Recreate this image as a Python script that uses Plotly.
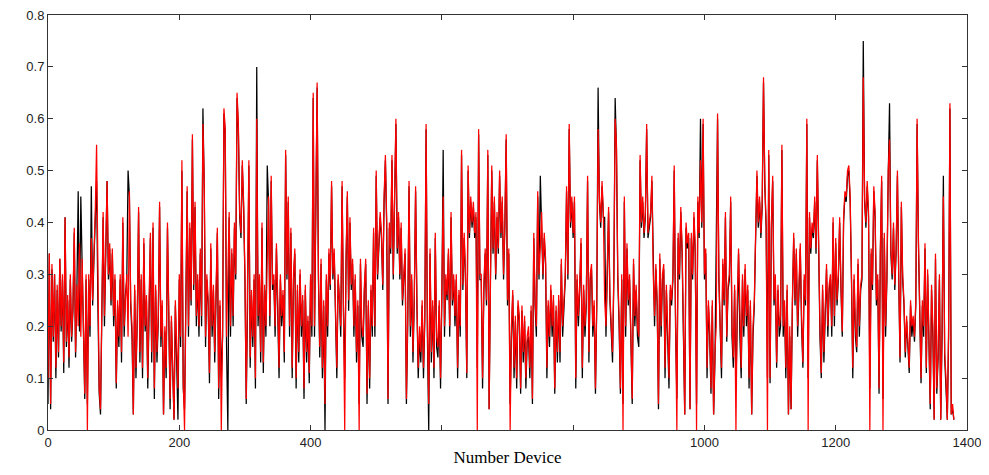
import plotly.graph_objects as go

# device index (sampled every 2 devices)
device_index = list(range(0, 1381, 2))

red_values = [
    .1,.34,.05,.32,.18,.3,.12,.28,.15,.33,
    .2,.3,.13,.41,.17,.26,.14,.3,.18,.24,
    .39,.15,.28,.2,.36,.18,.33,.2,.07,.3,
    0,.3,.2,.37,.25,.34,.42,.55,.25,.08,
    .04,.3,.42,.22,.37,.48,.3,.36,.25,.35,
    .22,.3,.09,.25,.18,.3,.15,.41,.2,.27,
    .3,.18,.46,.25,.2,.03,.28,.12,.22,.43,
    .15,.3,.12,.37,.2,.26,.1,.25,.38,.15,
    .4,.08,.28,.15,.22,.44,.18,.25,.03,.2,
    .12,.4,.2,.06,.22,.1,.02,.25,.15,.08,
    .3,.18,.52,.1,0,.28,.47,.2,.4,.25,
    .57,.28,.44,.22,.3,.2,.35,.22,.59,.48,
    .18,.3,.25,.11,.36,.2,.28,.15,.3,.39,
    .08,.25,0,.2,.62,.58,.18,.3,.42,.2,
    .35,.22,.4,.3,.65,.59,.42,.38,.52,.44,
    .3,.06,.25,.52,.14,.27,.18,.3,.1,.6,
    .22,.3,.15,.4,.13,.28,.2,.33,.45,.22,
    .49,.28,.3,.2,.36,.25,.12,.3,.22,.27,
    .15,.54,.3,.45,.2,.39,.12,.3,.35,.1,
    .28,.15,.31,.2,.26,.08,.28,.15,.22,.11,
    .3,.2,.65,.2,.4,.67,.3,.16,.33,.12,
    .25,.05,.3,.2,.35,.28,.48,.3,.35,.22,
    .12,.3,.26,.2,.48,.25,0,.33,.46,.25,
    .41,.28,.33,.2,.3,.15,.25,0,.33,.2,
    .18,.28,.33,.07,.25,.1,.28,.2,.39,.2,
    .5,.3,.35,.42,.38,.28,.45,.53,.4,.06,
    .4,.35,.53,.3,.45,.6,.35,.42,.3,.4,
    .25,.3,.35,.06,.22,.48,.2,.3,.15,.26,
    .47,.25,.12,.2,.15,.25,.12,.22,.59,.2,
    .05,.35,.15,.25,.12,.38,.18,.16,.25,.1,
    .26,.45,.2,.3,.26,.35,.2,.42,.25,.3,
    .22,.3,.12,.27,.2,.54,.28,.38,.3,.11,
    .51,.38,.45,.4,.44,.38,.42,0,.58,.3,
    .3,.1,.28,.35,.25,.54,.04,.3,.51,.35,
    .45,.3,.42,.35,.5,.38,.45,.3,.4,.57,
    .25,.35,0,.2,.27,.12,.22,.1,.25,.22,
    .08,.24,.15,.22,.1,.18,.2,.12,.24,.06,
    .38,.25,.2,.46,.3,.35,.42,.3,.38,.33,
    .12,.25,.18,.28,.2,.26,.08,.24,.15,.26,
    .15,.33,.2,.25,.3,.47,.3,.59,.4,.45,
    .38,.45,.1,.3,.22,.28,.37,.12,.28,.2,
    .25,.49,.15,.3,.32,.2,.25,.08,.25,.58,
    .45,.4,.48,.42,.25,.2,.3,.43,.26,.2,
    .15,.3,.6,.55,.3,.22,.08,.3,0,.45,
    .2,.36,.25,.3,.2,.06,.33,.22,.28,.2,
    .18,.53,.4,.45,.38,.42,.59,.38,.4,.42,
    .49,.3,.22,.32,.25,.05,.34,.2,.3,.32,
    .12,.28,.2,.1,.28,.25,.3,.51,.22,0,
    .38,.3,.43,.35,.2,.03,.4,.36,.38,.04,
    .38,.3,.42,.35,0,.45,.38,.52,.4,.6,
    .3,.35,.12,.25,.2,.08,.25,.03,.15,.2,
    .61,.3,.2,.12,.33,.25,.42,.18,.28,.3,
    .45,.2,.14,.28,0,.25,.35,.2,.12,.3,
    .2,.32,.22,.28,.1,.25,.03,.2,.25,.38,
    .5,.4,.45,.38,.44,.68,.48,.4,0,.54,
    .1,.4,.49,.25,.3,.13,.28,.2,.22,.55,
    .2,.25,.12,.28,.03,.2,.04,.25,.38,.25,
    .35,.2,.3,.36,.22,.13,.3,.25,.6,0,
    .42,.35,.4,.38,.45,.35,.53,.3,.2,.11,
    .28,.15,.25,.32,.2,.28,.3,.2,.41,.22,
    .37,.25,.3,.41,.28,.19,.41,.46,.45,.5,
    .51,.45,.3,.12,.3,.2,.16,.33,.2,.28,
    .3,.68,.45,.4,.48,.42,0,.35,.28,.47,
    .42,.25,.3,.08,.35,.49,0,.38,.2,.3,
    .5,.56,.35,.3,.4,.28,.35,.5,.3,.14,
    .44,.3,.25,.15,.22,.18,.12,.25,.2,.22,
    .18,.25,.6,.37,.2,.1,.25,.2,.36,.12,
    .31,.15,.05,.28,.2,.02,.34,.08,.15,.3,
    .02,.2,.45,.15,.1,.02,.2,.63,.03,.05,
    .02,
]

black_values = [
    .05,.34,.04,.31,.17,.3,.1,.27,.14,.33,
    .19,.29,.11,.41,.16,.25,.12,.29,.17,.23,
    .38,.14,.27,.46,.19,.45,.32,.19,.06,.29,
    .05,.29,.18,.47,.24,.33,.41,.48,.24,.07,
    .03,.29,.41,.2,.36,.48,.29,.35,.24,.34,
    .2,.29,.08,.24,.16,.29,.13,.4,.18,.26,
    .29,.5,.45,.24,.18,.03,.27,.1,.21,.42,
    .13,.29,.1,.36,.19,.25,.08,.24,.37,.13,
    .39,.06,.27,.13,.21,.43,.16,.24,.03,.19,
    .1,.39,.19,.04,.21,.08,.02,.24,.13,.02,
    .29,.16,.5,.08,.04,.27,.46,.18,.39,.24,
    .56,.27,.43,.2,.29,.18,.34,.2,.62,.47,
    .16,.29,.24,.09,.35,.18,.27,.13,.29,.38,
    .06,.24,.1,.18,.61,.57,.16,0,.41,.18,
    .34,.2,.39,.29,.64,.58,.41,.37,.51,.43,
    .29,.05,.24,.51,.12,.26,.16,.29,.08,.7,
    .2,.29,.13,.39,.11,.27,.18,.51,.44,.2,
    .48,.27,.29,.18,.35,.24,.1,.29,.2,.26,
    .13,.53,.29,.44,.18,.38,.1,.29,.34,.08,
    .27,.13,.3,.18,.25,.06,.27,.13,.21,.09,
    .29,.18,.64,.18,.39,.66,.29,.14,.32,.1,
    .24,0,.29,.18,.34,.27,.47,.29,.34,.2,
    .1,.29,.25,.18,.47,.24,.1,.32,.45,.23,
    .4,.27,.32,.18,.29,.13,.24,.05,.32,.18,
    .16,.27,.32,.05,.24,.08,.27,.18,.38,.18,
    .49,.29,.34,.41,.37,.27,.44,.52,.39,.05,
    .39,.34,.52,.29,.44,.59,.34,.41,.29,.39,
    .24,.29,.34,.05,.2,.47,.18,.29,.13,.25,
    .46,.24,.1,.18,.13,.24,.1,.21,.58,.18,
    0,.34,.13,.24,.1,.37,.16,.14,.24,.08,
    .25,.54,.18,.29,.25,.34,.18,.41,.24,.29,
    .2,.29,.1,.26,.18,.53,.27,.37,.29,.1,
    .5,.37,.44,.39,.43,.37,.41,.12,.57,.29,
    .29,.08,.27,.34,.24,.53,.04,.29,.5,.34,
    .44,.29,.41,.34,.49,.37,.44,.29,.39,.56,
    .24,.34,.05,.18,.26,.1,.21,.08,.24,.21,
    .07,.23,.13,.21,.08,.17,.18,.1,.23,.05,
    .37,.24,.18,.45,.29,.49,.41,.29,.37,.32,
    .1,.24,.16,.27,.18,.25,.07,.23,.13,.25,
    .13,.32,.18,.24,.29,.46,.29,.58,.39,.44,
    .37,.44,.08,.29,.2,.27,.36,.1,.27,.18,
    .24,.48,.13,.29,.31,.18,.24,.07,.24,.66,
    .44,.39,.47,.41,.41,.18,.29,.42,.25,.18,
    .13,.29,.64,.54,.29,.2,.07,.29,.05,.44,
    .18,.35,.24,.29,.18,.05,.32,.2,.27,.18,
    .16,.52,.39,.44,.37,.41,.58,.37,.39,.41,
    .48,.29,.2,.31,.24,.04,.33,.18,.29,.31,
    .1,.27,.18,.08,.27,.24,.29,.5,.2,.06,
    .37,.29,.42,.34,.18,.03,.39,.35,.37,.04,
    .37,.29,.41,.34,.05,.44,.37,.6,.39,.59,
    .29,.34,.1,.24,.18,.07,.24,.03,.13,.39,
    .6,.29,.18,.1,.32,.24,.41,.17,.27,.29,
    .44,.18,.12,.27,.08,.24,.34,.18,.1,.29,
    .18,.31,.2,.27,.08,.24,.03,.18,.24,.37,
    .49,.39,.44,.37,.43,.67,.47,.39,.1,.53,
    .09,.39,.48,.24,.29,.12,.27,.18,.2,.54,
    .18,.24,.1,.27,.03,.18,.04,.24,.37,.24,
    .34,.18,.29,.35,.2,.12,.29,.24,.59,.1,
    .41,.34,.39,.37,.44,.34,.52,.29,.18,.1,
    .27,.13,.24,.31,.18,.27,.29,.18,.4,.2,
    .36,.24,.29,.4,.27,.18,.4,.45,.44,.49,
    .5,.44,.29,.1,.29,.18,.15,.32,.18,.27,
    .29,.75,.44,.39,.47,.41,.08,.34,.27,.46,
    .41,.24,.29,.07,.34,.48,.06,.37,.18,.29,
    .49,.63,.34,.29,.39,.27,.34,.49,.29,.13,
    .43,.29,.24,.14,.21,.17,.11,.24,.18,.21,
    .17,.24,.59,.36,.18,.09,.24,.18,.35,.11,
    .3,.14,.04,.27,.18,.02,.33,.07,.14,.29,
    .02,.18,.49,.14,.09,.02,.18,.62,.03,.04,
    .02,
]

x_tick_vals = [0, 200, 400, 600, 800, 1000, 1200, 1400]
x_tick_text = ["0", "200", "400", "", "", "1000", "1200", "1400"]
y_tick_vals = [0, 0.1, 0.2, 0.3, 0.4, 0.5, 0.6, 0.7, 0.8]
y_tick_text = ["0", "0.1", "0.2", "0.3", "0.4", "0.5", "0.6", "0.7", "0.8"]

fig = go.Figure()
fig.add_trace(go.Scatter(x=device_index, y=black_values, mode="lines",
                         line=dict(color="#000000", width=1.25), showlegend=False))
fig.add_trace(go.Scatter(x=device_index, y=red_values, mode="lines",
                         line=dict(color="#ff0000", width=1.25), showlegend=False))

axis_common = dict(showline=True, linecolor="#333333", linewidth=1, mirror="ticks",
                   ticks="inside", ticklen=5, tickcolor="#333333", showgrid=False,
                   zeroline=False, automargin=False, ticklabeloverflow="allow",
                   tickfont=dict(family="Liberation Sans, Arial, sans-serif", size=13, color="#222222"))

# page body adds an 8px offset, so the figure is sized to fit inside the window
fig.update_layout(
    width=981, height=459,
    margin=dict(l=40, r=22, t=7, b=37),
    paper_bgcolor="white", plot_bgcolor="white",
    xaxis=dict(range=[0, 1400], tickvals=x_tick_vals, ticktext=x_tick_text,
               title=dict(text="Number Device", standoff=2,
                          font=dict(family="Liberation Serif, Times New Roman, serif", size=17, color="#000000")),
               **axis_common),
    yaxis=dict(range=[0, 0.8], tickvals=y_tick_vals, ticktext=y_tick_text, **axis_common),
)

fig.write_html("out.html")
